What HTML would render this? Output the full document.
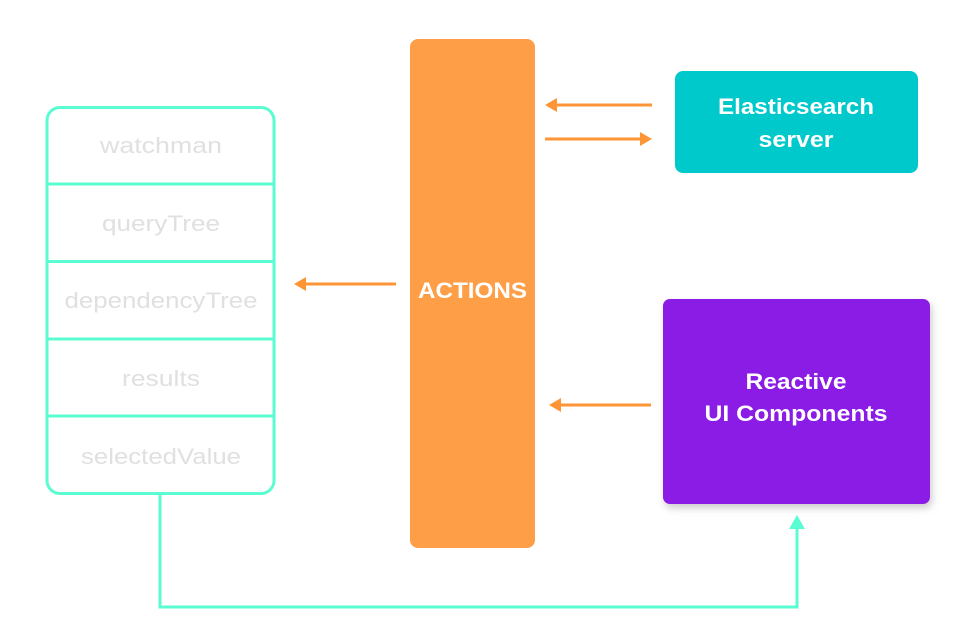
<!DOCTYPE html>
<html><head><meta charset="utf-8"><style>
html,body{margin:0;padding:0;background:#fff;}
svg{display:block;}
text{font-family:"Liberation Sans","DejaVu Sans",sans-serif;}
</style></head><body>
<svg width="975" height="643" viewBox="0 0 975 643" xmlns="http://www.w3.org/2000/svg">
<defs>
<filter id="sh" x="-10%" y="-10%" width="130%" height="130%"><feDropShadow dx="2" dy="4" stdDeviation="4" flood-color="#000" flood-opacity="0.2"/></filter>
</defs>
<rect x="47" y="107.5" width="227" height="386" rx="13" fill="#fff" stroke="#5afcd2" stroke-width="3"/>
<g stroke="#5afcd2" stroke-width="3">
<line x1="47" y1="184" x2="274" y2="184"/>
<line x1="47" y1="261.5" x2="274" y2="261.5"/>
<line x1="47" y1="339" x2="274" y2="339"/>
<line x1="47" y1="416" x2="274" y2="416"/>
</g>
<g fill="#e0e0e0" font-size="22" text-anchor="middle" lengthAdjust="spacingAndGlyphs">
<text x="161" y="153" textLength="122" lengthAdjust="spacingAndGlyphs">watchman</text>
<text x="161" y="231" textLength="118" lengthAdjust="spacingAndGlyphs">queryTree</text>
<text x="161" y="308" textLength="193" lengthAdjust="spacingAndGlyphs">dependencyTree</text>
<text x="161" y="386" textLength="78" lengthAdjust="spacingAndGlyphs">results</text>
<text x="161" y="464" textLength="160" lengthAdjust="spacingAndGlyphs">selectedValue</text>
</g>
<rect x="410" y="39" width="125" height="509" rx="8" fill="#fe9f48"/>
<text x="472.5" y="298" fill="#fff" font-size="22" font-weight="bold" text-anchor="middle" textLength="109" lengthAdjust="spacingAndGlyphs">ACTIONS</text>
<rect x="675" y="71" width="243" height="102" rx="8" fill="#00c9cc"/>
<g fill="#fff" font-size="22" font-weight="bold" text-anchor="middle">
<text x="796" y="114" textLength="156" lengthAdjust="spacingAndGlyphs">Elasticsearch</text>
<text x="796" y="147" textLength="75" lengthAdjust="spacingAndGlyphs">server</text>
</g>
<rect x="663" y="299" width="267" height="205" rx="7" fill="#8a1de6" filter="url(#sh)"/>
<g fill="#fff" font-size="22" font-weight="bold" text-anchor="middle">
<text x="796" y="389" textLength="101" lengthAdjust="spacingAndGlyphs">Reactive</text>
<text x="796" y="421" textLength="183" lengthAdjust="spacingAndGlyphs">UI Components</text>
</g>
<g stroke="#fd9536" stroke-width="3">
<line x1="652" y1="105" x2="555" y2="105"/>
<line x1="545" y1="139" x2="642" y2="139"/>
<line x1="396" y1="284" x2="304" y2="284"/>
<line x1="651" y1="405" x2="559" y2="405"/>
</g>
<g fill="#fd9536">
<polygon points="545,105 557,98 557,112"/>
<polygon points="652,139 640,132 640,146"/>
<polygon points="294,284 306,277 306,291"/>
<polygon points="549,405 561,398 561,412"/>
</g>
<polyline points="160,494 160,607 797,607 797,527" fill="none" stroke="#5afcd2" stroke-width="3"/>
<polygon points="797,515 789,529 805,529" fill="#5afcd2"/>
</svg>
</body></html>
